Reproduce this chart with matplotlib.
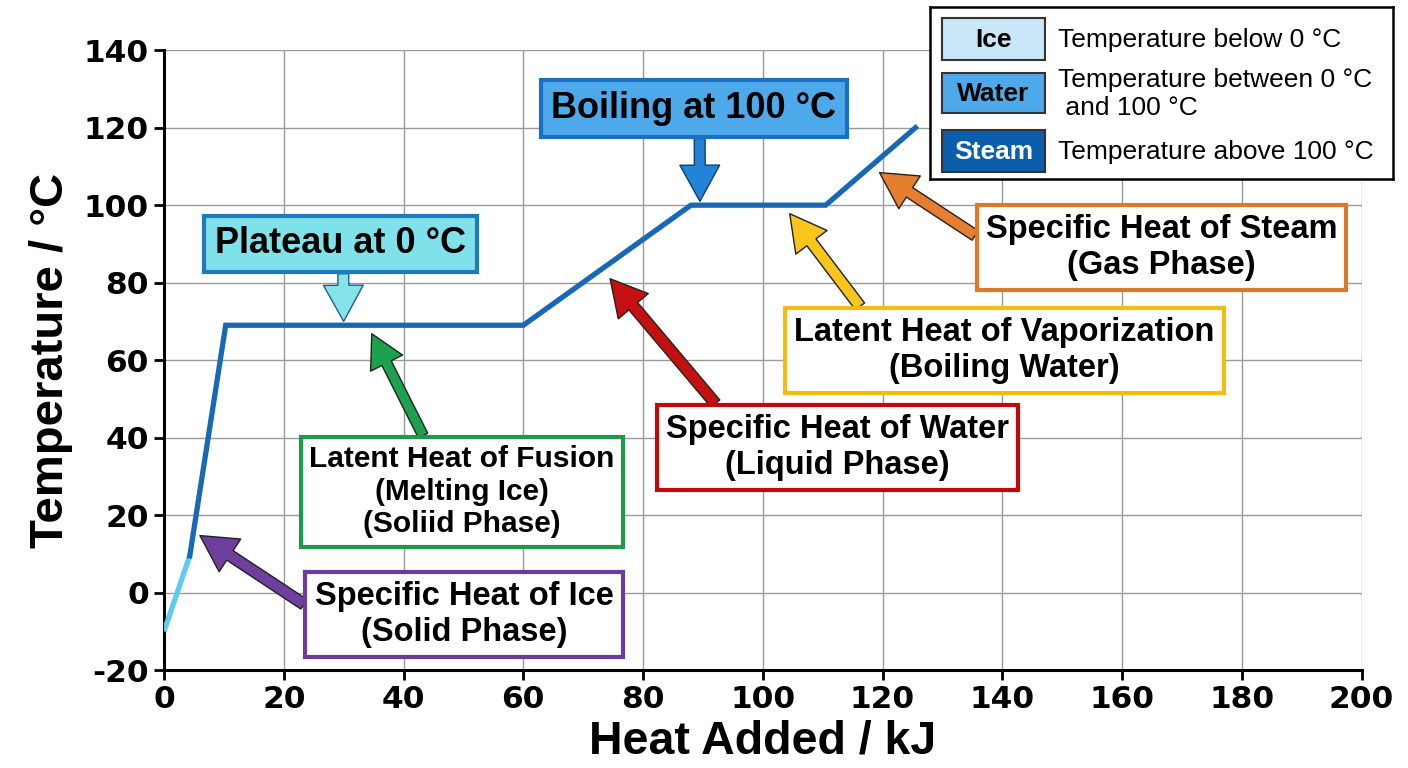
import matplotlib
matplotlib.use("Agg")
import matplotlib.pyplot as plt
from matplotlib.patches import Rectangle

plt.rcParams["axes.unicode_minus"] = False

# heating curve of water
heat_ice = [0, 4.3]
temp_ice = [-10, 9.5]
heat_main = [4.3, 10.3, 60, 88, 110.5, 125.5]
temp_main = [9.5, 69, 69, 100, 100, 120]

x_ticks = list(range(0, 201, 20))
y_ticks = list(range(-20, 141, 20))

# (text, box centre, arrow target, relpos, edge colour, arrow colour, font size)
notes = [
    ("Latent Heat of Fusion\n(Melting Ice)\n(Soliid Phase)", (49.7, 26), (34.7, 66.8), (0.39, 1.0), "#1e9a4c", "#1ca14f", 21.5),
    ("Specific Heat of Ice\n(Solid Phase)", (50.1, -5.7), (6.0, 14.7), (0.0, 0.55), "#6b3c9c", "#6f3fa0", 23.5),
    ("Specific Heat of Water\n(Liquid Phase)", (112.5, 37.4), (74.5, 81), (0.17, 1.0), "#c00a0a", "#c41010", 23.5),
    ("Latent Heat of Vaporization\n(Boiling Water)", (140.4, 62.5), (104.5, 97.8), (0.175, 1.0), "#f2bd12", "#f7c51c", 23.5),
    ("Specific Heat of Steam\n(Gas Phase)", (166.6, 89.0), (119.5, 108.4), (0.0, 0.58), "#e0782c", "#e57e2e", 23.5),
]

legend_names = ["Ice", "Water", "Steam"]
legend_desc = ["Temperature below 0 °C", "Temperature between 0 °C\n and 100 °C", "Temperature above 100 °C"]
legend_fill = ["#c9e7f8", "#4ea9ea", "#0b5eab"]
legend_txt = ["black", "black", "white"]

fig = plt.figure(figsize=(14.08, 7.68), dpi=100)
ax = fig.add_axes([0.1165, 0.1276, 0.8505, 0.807])

ax.plot(heat_ice, temp_ice, color="#5ccbef", lw=3.8, solid_capstyle="butt", zorder=3)
ax.plot(heat_main, temp_main, color="#1868b8", lw=3.8, solid_joinstyle="miter", zorder=3)

ax.set_xlim(0, 200)
ax.set_ylim(-20, 140)
ax.set_xticks(x_ticks)
ax.set_yticks(y_ticks)
ax.grid(True, color="#9a9a9a", lw=1)
ax.set_axisbelow(True)
for s in ["top", "right"]:
    ax.spines[s].set_visible(False)
for s in ["left", "bottom"]:
    ax.spines[s].set_linewidth(2.2)
ax.tick_params(direction="out", length=7, width=2, labelsize=22.5, pad=4)
for lab in ax.get_xticklabels() + ax.get_yticklabels():
    lab.set_fontfamily("DejaVu Sans")
    lab.set_fontweight("bold")

ax.set_xlabel("Heat Added / kJ", fontsize=33.5, fontweight="bold", family="Liberation Sans", labelpad=4)
ax.set_ylabel("Temperature / °C", fontsize=34, fontweight="bold", family="Liberation Sans", labelpad=8)

# top call-outs
ax.annotate("Plateau at 0 °C", xy=(30, 70), xytext=(29.5, 90), ha="center", va="center",
            fontsize=26, fontweight="bold", family="Liberation Sans",
            bbox=dict(boxstyle="square,pad=0.3", fc="#7fe1ea", ec="#1f78c0", lw=3),
            arrowprops=dict(arrowstyle="simple,head_width=1.1,head_length=1.0,tail_width=0.3",
                            fc="#86e3ec", ec="#1b5f8a", lw=1, relpos=(0.51, 0.0), shrinkA=0, shrinkB=0),
            zorder=5)
ax.annotate("Boiling at 100 °C", xy=(89.5, 101), xytext=(88.5, 124.9), ha="center", va="center",
            fontsize=26, fontweight="bold", family="Liberation Sans",
            bbox=dict(boxstyle="square,pad=0.3", fc="#4ea9ea", ec="#1d6fc0", lw=3),
            arrowprops=dict(arrowstyle="simple,head_width=1.1,head_length=1.0,tail_width=0.3",
                            fc="#2383d6", ec="#0e3f70", lw=1, relpos=(0.52, 0.0), shrinkA=0, shrinkB=0),
            zorder=5)

for text, pos, target, rp, ec, ac, fs in notes:
    ax.annotate(text, xy=target, xytext=pos, ha="center", va="center", multialignment="center",
                fontsize=fs, fontweight="bold", family="Liberation Sans", linespacing=1.2,
                bbox=dict(boxstyle="square,pad=0.28", fc="white", ec=ec, lw=3),
                arrowprops=dict(arrowstyle="simple,head_width=1.2,head_length=1.1,tail_width=0.35",
                                fc=ac, ec="#222222", lw=1, relpos=rp, shrinkA=0, shrinkB=0),
                zorder=5)

# legend drawn in its own box
lax = fig.add_axes([930 / 1408, 1 - 179 / 768, 463 / 1408, 172 / 768])
lax.set_xlim(930, 1393)
lax.set_ylim(179, 7)
lax.set_xticks([])
lax.set_yticks([])
for s in lax.spines.values():
    s.set_linewidth(1.8)
    s.set_color("black")
rows = [(18, 60), (73, 113), (130, 172)]
for (y0, y1), name, desc, fc, tc in zip(rows, legend_names, legend_desc, legend_fill, legend_txt):
    lax.add_patch(Rectangle((942, y0), 103, y1 - y0, fc=fc, ec="#333333", lw=1.5))
    lax.text(993.5, (y0 + y1) / 2 + 1, name, ha="center", va="center", fontsize=19,
             fontweight="bold", color=tc, family="Liberation Sans")
    lax.text(1058, (y0 + y1) / 2 + 1, desc, ha="left", va="center", fontsize=19,
             family="Liberation Sans", linespacing=1.25)

fig.savefig("out.png", dpi=100)
